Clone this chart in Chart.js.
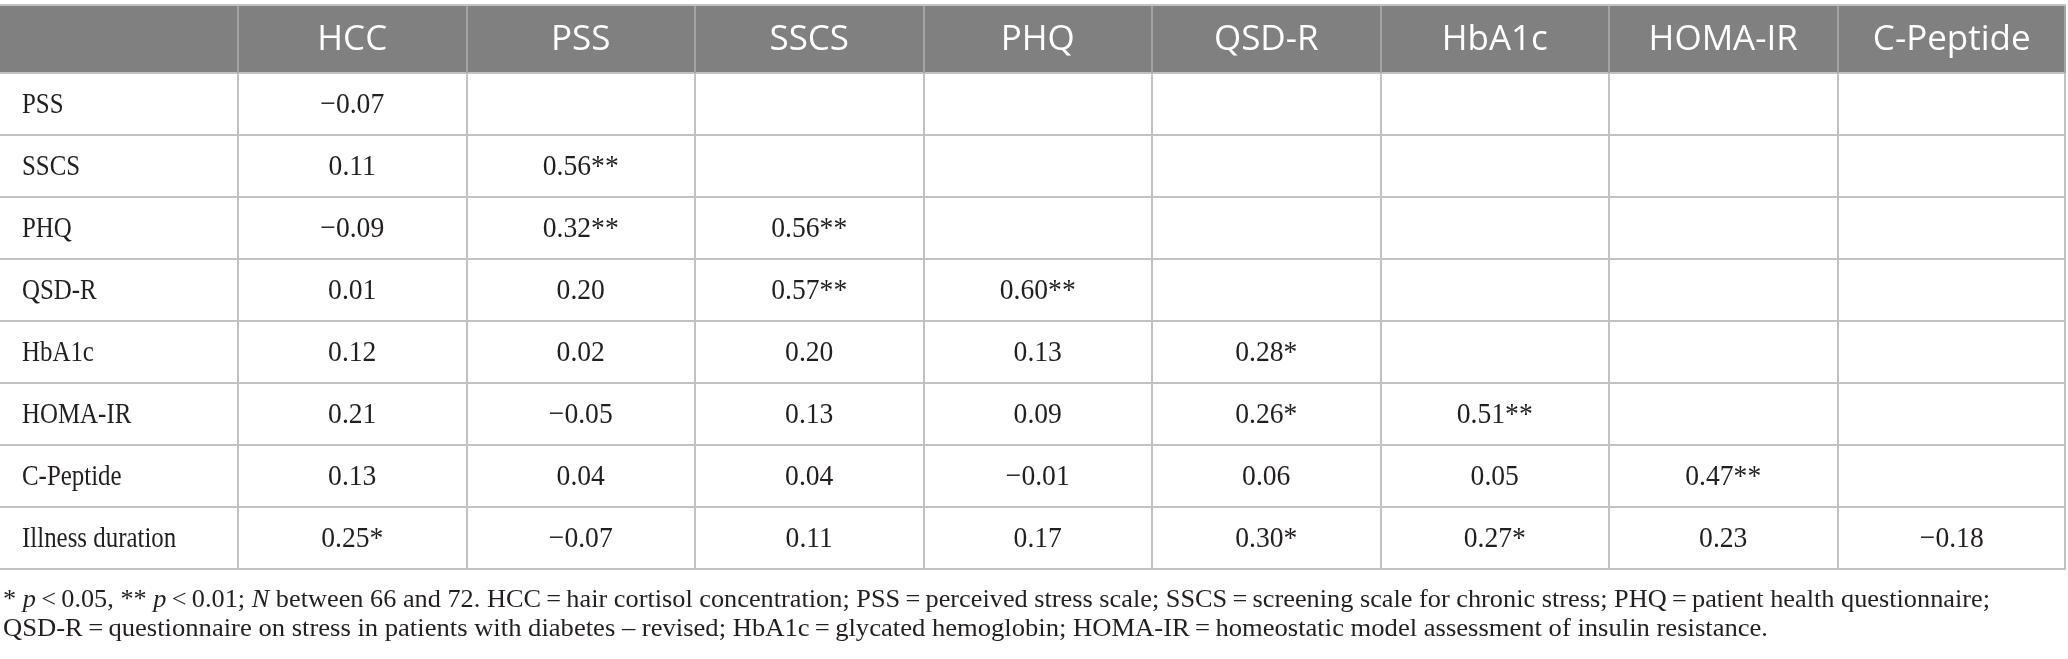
<!DOCTYPE html>
<html>
<head>
<meta charset="utf-8">
<script src="https://cdn.jsdelivr.net/npm/chart.js@4/dist/chart.umd.min.js"></script>
<style>
html,body{margin:0;padding:0;background:#fff;}
#wrap{width:2068px;height:659px;position:relative;}
canvas{display:block;}
</style>
</head>
<body>
<div id="wrap"><canvas id="c" width="2068" height="659"></canvas></div>
<script>
// ---- data ----
const columns = ['HCC', 'PSS', 'SSCS', 'PHQ', 'QSD-R', 'HbA1c', 'HOMA-IR', 'C-Peptide'];
const rows = ['PSS', 'SSCS', 'PHQ', 'QSD-R', 'HbA1c', 'HOMA-IR', 'C-Peptide', 'Illness duration'];

// lower-triangle correlations, per column (starting at the row just below the diagonal)
const hcc      = [-0.07, 0.11, -0.09, 0.01, 0.12, 0.21, 0.13, 0.25];
const hccSig   = ['', '', '', '', '', '', '', '*'];
const pss      = [0.56, 0.32, 0.20, 0.02, -0.05, 0.04, -0.07];
const pssSig   = ['**', '**', '', '', '', '', ''];
const sscs     = [0.56, 0.57, 0.20, 0.13, 0.04, 0.11];
const sscsSig  = ['**', '**', '', '', '', ''];
const phq      = [0.60, 0.13, 0.09, -0.01, 0.17];
const phqSig   = ['**', '', '', '', ''];
const qsdr     = [0.28, 0.26, 0.06, 0.30];
const qsdrSig  = ['*', '*', '', '*'];
const hba1c    = [0.51, 0.05, 0.27];
const hba1cSig = ['**', '', '*'];
const homair   = [0.47, 0.23];
const homairSig = ['**', ''];
const cpeptide = [-0.18];
const cpeptideSig = [''];

const footLine1 = [
  ['* ', false], ['p', true], ['\u2009<\u20090.05, ** ', false], ['p', true], ['\u2009<\u20090.01; ', false], ['N', true],
  [' between 66 and 72. HCC\u2009=\u2009hair cortisol concentration; PSS\u2009=\u2009perceived stress scale; SSCS\u2009=\u2009screening scale for chronic stress; PHQ\u2009=\u2009patient health questionnaire;', false]
];
const footLine2 = [
  ['QSD-R\u2009=\u2009questionnaire on stress in patients with diabetes \u2013 revised; HbA1c\u2009=\u2009glycated hemoglobin; HOMA-IR\u2009=\u2009homeostatic model assessment of insulin resistance.', false]
];

// ---- build datasets from arrays ----
const colValues = [hcc, pss, sscs, phq, qsdr, hba1c, homair, cpeptide];
const colSigs = [hccSig, pssSig, sscsSig, phqSig, qsdrSig, hba1cSig, homairSig, cpeptideSig];
function fmt(v, s) { return (v < 0 ? '\u2212' : '') + Math.abs(v).toFixed(2) + s; }

const cellPoints = [];
colValues.forEach((vals, j) => {
  vals.forEach((v, k) => {
    cellPoints.push({ x: j + 1, y: j + k + 1, text: fmt(v, colSigs[j][k]) });
  });
});
const headerPoints = columns.map((c, j) => ({ x: j + 1, y: -0.056, text: c }));
const X_MIN = -0.5416, X_MAX = 8.5, Y_MIN = -0.613, Y_MAX = 8.5;
const rowPoints = rows.map((r, i) => ({ x: X_MIN, y: i + 1, text: r }));

const SERIF = '"Liberation Serif", "DejaVu Serif", serif';
const SANS = '"Open Sans", "Noto Sans", sans-serif';
const INK = '#231f20';

const tablePlugin = {
  id: 'tablePlugin',
  beforeDatasetsDraw(chart) {
    const ctx = chart.ctx, xs = chart.scales.x, ys = chart.scales.y;
    const left = xs.getPixelForValue(X_MIN), right = xs.getPixelForValue(X_MAX);
    const top = ys.getPixelForValue(Y_MIN), hb = ys.getPixelForValue(0.5), bottom = ys.getPixelForValue(Y_MAX);
    ctx.save();
    // header band
    ctx.fillStyle = '#808080';
    ctx.fillRect(left, top, right - left, hb - top);
    // body grid
    ctx.strokeStyle = '#c2c2c2';
    ctx.lineWidth = 2;
    ctx.beginPath();
    ctx.moveTo(left, top + 1); ctx.lineTo(right, top + 1);
    for (let i = 0; i <= rows.length; i++) {
      const y = Math.round(ys.getPixelForValue(i + 0.5));
      ctx.moveTo(left, y); ctx.lineTo(right, y);
    }
    for (let j = 0; j <= columns.length; j++) {
      const x = Math.round(xs.getPixelForValue(j + 0.5)) - (j === columns.length ? 1 : 0);
      ctx.moveTo(x, hb); ctx.lineTo(x, bottom);
    }
    ctx.stroke();
    // header separators
    ctx.strokeStyle = '#a3a3a3';
    ctx.beginPath();
    for (let j = 0; j <= columns.length; j++) {
      const x = Math.round(xs.getPixelForValue(j + 0.5)) - (j === columns.length ? 1 : 0);
      ctx.moveTo(x, top + 2); ctx.lineTo(x, hb);
    }
    ctx.stroke();
    ctx.restore();
  },
  afterDatasetsDraw(chart) {
    const ctx = chart.ctx;
    ctx.save();
    ctx.textBaseline = 'middle';
    chart.data.datasets.forEach((ds, di) => {
      const meta = chart.getDatasetMeta(di);
      meta.data.forEach((el, i) => {
        const p = ds.data[i];
        if (ds.kind === 'header') {
          ctx.font = '400 35px ' + SANS;
          ctx.fillStyle = '#ffffff';
          ctx.textAlign = 'center';
          ctx.fillText(p.text, el.x, el.y + 1);
        } else if (ds.kind === 'row') {
          ctx.font = '30px ' + SERIF;
          ctx.fillStyle = INK;
          ctx.textAlign = 'left';
          ctx.save();
          ctx.translate(el.x + 22, el.y + 1);
          ctx.scale(0.83, 1);
          ctx.fillText(p.text, 0, 0);
          ctx.restore();
        } else {
          ctx.font = '30px ' + SERIF;
          ctx.fillStyle = INK;
          ctx.textAlign = 'center';
          ctx.save();
          ctx.translate(el.x, el.y + 1);
          ctx.scale(0.92, 1);
          ctx.fillText(p.text, 0, 0);
          ctx.restore();
        }
      });
    });
    ctx.restore();
  },
  afterDraw(chart) {
    const ctx = chart.ctx;
    const bottom = chart.scales.y.getPixelForValue(Y_MAX);
    function drawLine(segs, baseline, targetW) {
      ctx.save();
      ctx.fillStyle = INK;
      ctx.textBaseline = 'alphabetic';
      ctx.textAlign = 'left';
      let w = 0;
      segs.forEach(s => { ctx.font = (s[1] ? 'italic ' : '') + '25px ' + SERIF; w += ctx.measureText(s[0]).width; });
      const sx = targetW / w;
      ctx.translate(3, baseline);
      ctx.scale(sx, 1);
      let x = 0;
      segs.forEach(s => {
        ctx.font = (s[1] ? 'italic ' : '') + '25px ' + SERIF;
        ctx.fillText(s[0], x, 0);
        x += ctx.measureText(s[0]).width;
      });
      ctx.restore();
    }
    drawLine(footLine1, bottom + 38, 1987);
    drawLine(footLine2, bottom + 67, 1765);
  }
};

new Chart(document.getElementById('c'), {
  type: 'scatter',
  data: {
    datasets: [
      { kind: 'header', data: headerPoints, pointRadius: 0, pointHoverRadius: 0 },
      { kind: 'row', data: rowPoints, pointRadius: 0, pointHoverRadius: 0 },
      { kind: 'cell', data: cellPoints, pointRadius: 0, pointHoverRadius: 0 }
    ]
  },
  options: {
    responsive: false,
    animation: false,
    devicePixelRatio: 1,
    layout: { padding: { top: 4, bottom: 90, left: 0, right: 2 } },
    plugins: { legend: { display: false }, tooltip: { enabled: false }, title: { display: false } },
    events: [],
    scales: {
      x: { type: 'linear', min: X_MIN, max: X_MAX, display: false },
      y: { type: 'linear', min: Y_MIN, max: Y_MAX, reverse: true, display: false }
    }
  },
  plugins: [tablePlugin]
});
</script>
</body>
</html>
